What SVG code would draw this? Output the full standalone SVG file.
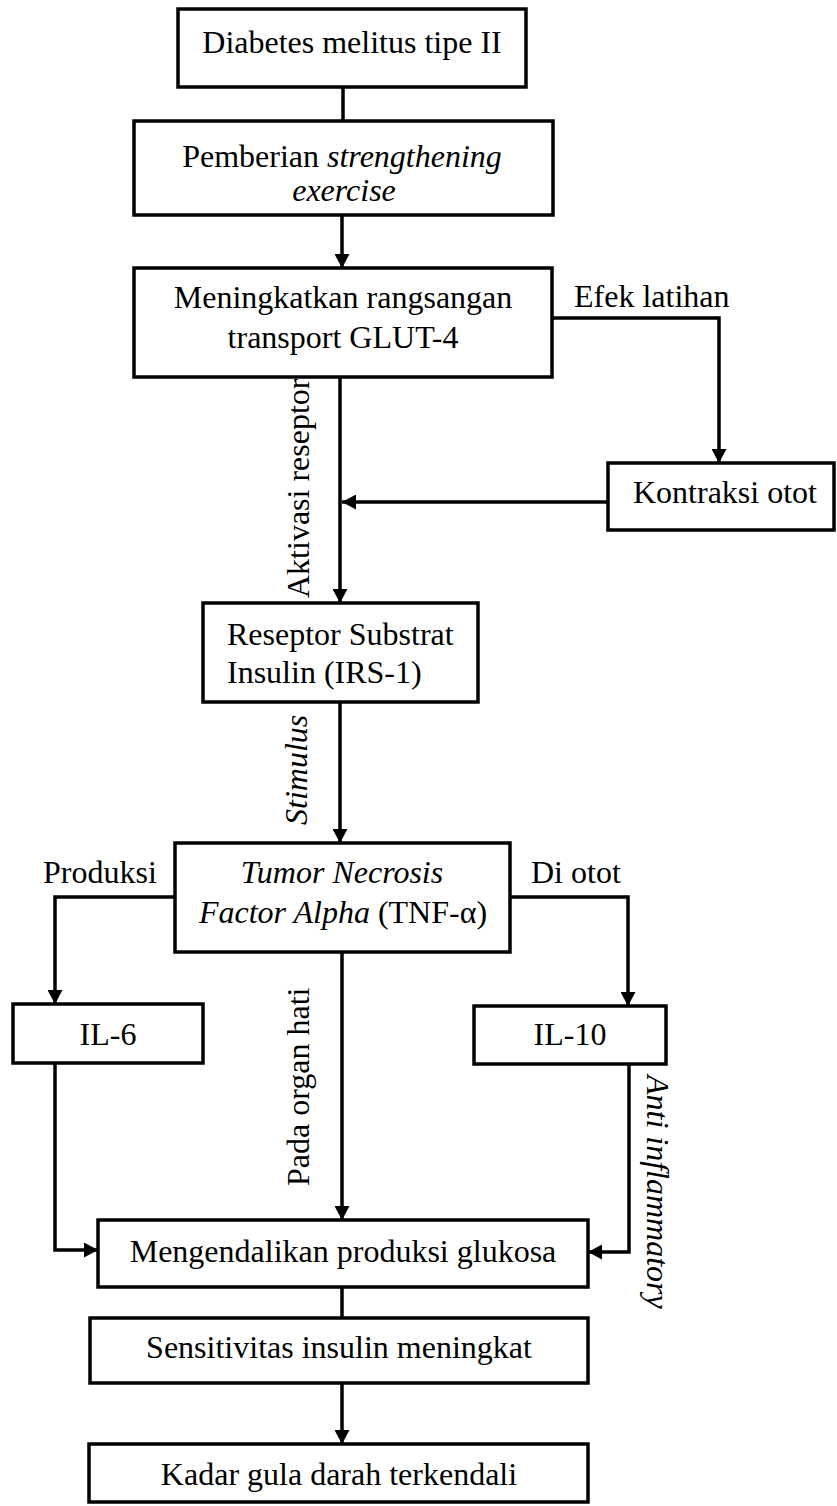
<svg xmlns="http://www.w3.org/2000/svg" width="837" height="1506" viewBox="0 0 837 1506">
<style>
.box{fill:#fff;stroke:#000;stroke-width:3.5}
.t{font-family:"Liberation Serif","Times New Roman",serif;font-size:32px;fill:#000}
.c{text-anchor:middle}
.i{font-style:italic}
.ln{fill:none;stroke:#000;stroke-width:3.5}
</style>
<defs>
<marker id="ah" viewBox="0 0 14 15" refX="14" refY="7.5" markerWidth="14" markerHeight="15" markerUnits="userSpaceOnUse" orient="auto">
<path d="M0,0 L14,7.5 L0,15 z" fill="#000"/>
</marker>
</defs>
<rect width="837" height="1506" fill="#fff"/>
<g id="connectors">
<path class="ln" d="M343,87 V121"/>
<path class="ln" d="M342,215 V268" marker-end="url(#ah)"/>
<path class="ln" d="M552,318 H719 V463" marker-end="url(#ah)"/>
<path class="ln" d="M340,377 V603" marker-end="url(#ah)"/>
<path class="ln" d="M608,502 H342" marker-end="url(#ah)"/>
<path class="ln" d="M340,702 V843" marker-end="url(#ah)"/>
<path class="ln" d="M175,897 H55 V1004" marker-end="url(#ah)"/>
<path class="ln" d="M510,897 H628 V1006" marker-end="url(#ah)"/>
<path class="ln" d="M342,952 V1220" marker-end="url(#ah)"/>
<path class="ln" d="M55,1063 V1250 H98" marker-end="url(#ah)"/>
<path class="ln" d="M629,1064 V1252 H588" marker-end="url(#ah)"/>
<path class="ln" d="M342,1287 V1318"/>
<path class="ln" d="M342,1383 V1444" marker-end="url(#ah)"/>
<text class="t" x="574" y="307">Efek latihan</text>
<text class="t" x="43" y="883">Produksi</text>
<text class="t" x="531" y="883">Di otot</text>
<text class="t" transform="translate(309,598) rotate(-90)">Aktivasi reseptor</text>
<text class="t i" transform="translate(307,825) rotate(-90)">Stimulus</text>
<text class="t" transform="translate(309,1186) rotate(-90)">Pada organ hati</text>
<text class="t i" transform="translate(647,1075) rotate(90)">Anti inflammatory</text>
</g>
<g id="n1"><rect class="box" x="178" y="9" width="348" height="78"/><text class="t c" x="352" y="53">Diabetes melitus tipe II</text></g>
<g id="n2"><rect class="box" x="134" y="121" width="419" height="94"/><text class="t c" x="342" y="167">Pemberian <tspan class="i">strengthening</tspan></text><text class="t c i" x="344" y="201">exercise</text></g>
<g id="n3"><rect class="box" x="134" y="268" width="418" height="109"/><text class="t c" x="343" y="308">Meningkatkan rangsangan</text><text class="t c" x="343" y="348">transport GLUT-4</text></g>
<g id="n4"><rect class="box" x="608" y="463" width="226" height="67"/><text class="t c" x="725" y="503">Kontraksi otot</text></g>
<g id="n5"><rect class="box" x="203" y="603" width="275" height="99"/><text class="t" x="227" y="645">Reseptor Substrat</text><text class="t" x="227" y="683">Insulin (IRS-1)</text></g>
<g id="n6"><rect class="box" x="175" y="843" width="335" height="109"/><text class="t c i" x="342" y="883">Tumor Necrosis</text><text class="t c" x="343" y="923"><tspan class="i">Factor Alpha</tspan> (TNF-α)</text></g>
<g id="n7"><rect class="box" x="13" y="1004" width="190" height="59"/><text class="t c" x="108" y="1045">IL-6</text></g>
<g id="n8"><rect class="box" x="474" y="1006" width="192" height="58"/><text class="t c" x="570" y="1045">IL-10</text></g>
<g id="n9"><rect class="box" x="98" y="1220" width="490" height="67"/><text class="t c" x="343" y="1262">Mengendalikan produksi glukosa</text></g>
<g id="n10"><rect class="box" x="90" y="1318" width="498" height="65"/><text class="t c" x="339" y="1358">Sensitivitas insulin meningkat</text></g>
<g id="n11"><rect class="box" x="89" y="1444" width="499" height="58"/><text class="t c" x="339" y="1485">Kadar gula darah terkendali</text></g>
</svg>
